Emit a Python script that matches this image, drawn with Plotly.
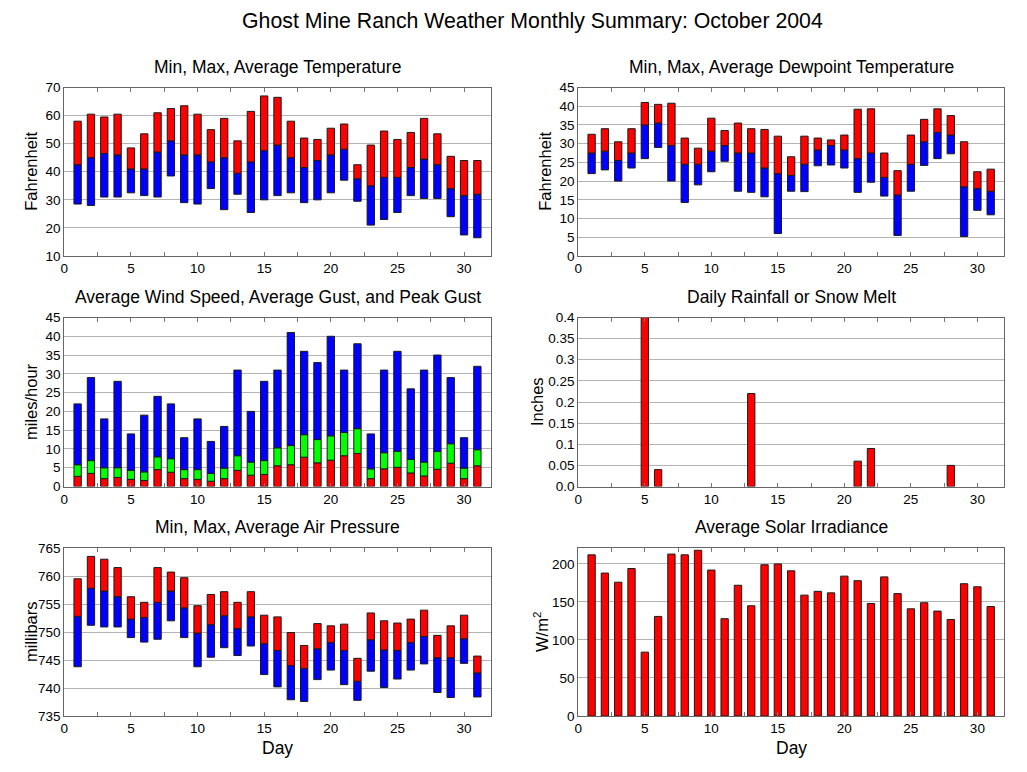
import plotly.graph_objects as go

days = list(range(1, 32))

temp_max = [58, 60.5, 59.5, 60.5, 48.5, 53.5, 61, 62.5, 63.5, 60.5, 55, 59, 51, 61.5, 67, 66.5,
            58, 52, 51.5, 55.5, 57, 42.5, 49.5, 54.5, 51.5, 54, 59, 53.5, 45.5, 44, 44]
temp_avg = [42.5, 45, 46.5, 46, 41, 41, 47, 51, 46, 46, 43.5, 45, 39.5, 43.5, 47.5, 49.5,
            45, 41.5, 44, 46, 48, 37.5, 35, 38, 38, 41.5, 44.5, 42.5, 34, 31.5, 32]
temp_min = [28.5, 28, 31, 31, 32.5, 31.5, 31, 38.5, 29, 28.5, 34, 26.5, 32, 25.5, 30, 31.5,
            32.5, 29, 30, 32.5, 37, 29.5, 21, 23, 25.5, 31.5, 30.5, 30.5, 24, 17.5, 16.5]

dew_max = [32.5, 34, 30.5, 34, 41, 40.5, 40.8, 31.5, 28.8, 36.8, 33.5, 35.5, 34, 33.8, 32, 26.5,
           32, 31.5, 31, 32.3, 39.2, 39.3, 27.5, 22.8, 32.3, 36.5, 39.3, 37.5, 30.5, 22.5, 23.2]
dew_avg = [27.5, 28, 25.5, 27.5, 35, 35.5, 29.5, 24.5, 24.5, 28, 29.5, 27.5, 27.5, 23.5, 22, 21.5,
           24.5, 28.3, 29.5, 28.3, 26, 27.5, 21, 16.3, 24.5, 30.5, 33, 32.3, 18.5, 18, 17.3]
dew_min = [22, 23, 20, 23.5, 26, 29, 20, 14.3, 19, 22.5, 25.3, 17.3, 17, 15.8, 6, 17.3,
           17.2, 24.1, 24.3, 23.5, 17, 19.7, 16, 5.5, 17.3, 24.2, 26, 27.3, 5.2, 12.2, 11]

wind_avg = [2.7, 3.5, 2.1, 2.4, 1.9, 1.6, 4.5, 3.8, 2.1, 1.9, 1.4, 2.1, 4.3, 3.0, 3.2, 5.5,
            5.8, 7.8, 6.3, 7.0, 8.2, 8.8, 2.1, 4.7, 5.1, 3.6, 2.8, 4.6, 6.2, 2.1, 5.5]
gust_avg = [5.8, 6.9, 5.0, 5.0, 4.3, 3.9, 7.9, 7.4, 4.5, 4.5, 3.5, 4.9, 8.2, 6.5, 6.9, 10.3,
            10.9, 13.8, 12.5, 13.5, 14.4, 15.4, 4.7, 9.0, 9.4, 7.2, 6.5, 9.3, 11.4, 4.9, 9.8]
gust_peak = [22, 29, 18, 28, 14, 19, 24, 22, 13, 18, 12, 16, 31, 20, 28, 31,
             41, 36, 33, 40, 31, 38, 14, 31, 36, 26, 31, 35, 29, 13, 32]

rain_days = [5, 6, 13, 21, 22, 28]
rain_vals = [0.40, 0.04, 0.22, 0.06, 0.09, 0.05]

pres_max = [759.5, 763.5, 763, 761.5, 756.3, 755.3, 761.5, 760.7, 759.7, 754.7, 756.7, 757.2,
            755.3, 757.2, 753, 752.7, 749.9, 747.6, 751.5, 751.1, 751.4, 745.3, 753.4, 752,
            751.6, 752.3, 753.9, 749.4, 751.1, 753, 745.7]
pres_avg = [752.8, 757.8, 757.3, 756.3, 752.3, 752.6, 755.3, 757.3, 754.3, 749.8, 751.3, 752.9,
            750.6, 752.7, 747.9, 746.7, 744, 743.5, 747, 748.1, 746.7, 741.2, 748.6, 746.8,
            746.7, 748.1, 749.2, 745.4, 745.4, 748.8, 742.7]
pres_min = [743.8, 751.2, 750.9, 750.9, 749, 748.2, 748.7, 752, 749, 743.8, 745.5, 747.2,
            745.8, 747.5, 742.4, 740.2, 737.9, 737.6, 741.5, 743.2, 740.6, 737.8, 743, 740.1,
            741.6, 743.2, 744.3, 739.2, 738.3, 744.4, 738.4]

solar = [212, 188, 176, 194, 84, 131, 213, 212, 218, 192, 128, 172, 145, 199, 200, 191,
         159, 164, 162, 184, 178, 148, 183, 161, 141, 149, 138, 127, 174, 170, 144]

rain_ticks = [0, 0.05, 0.1, 0.15, 0.2, 0.25, 0.3, 0.35, 0.4]
rain_ticktext = ["0.0", "0.05", "0.1", "0.15", "0.2", "0.25", "0.3", "0.35", "0.4"]

RED = "#ff0000"
BLUE = "#0000ff"
GREEN = "#00ff00"
EDGE = dict(color="#1a1a1a", width=1)
BW = 0.55
FONT = "Liberation Sans, Arial, sans-serif"

W, H = 1027, 772
def px(x):
    return x / W
def py(y):
    return 1 - y / H

cols = [(64.3, 490.7), (578.3, 1004.0)]
rows = [(87.5, 256.0), (317.5, 486.5), (548.0, 716.0)]

fig = go.Figure()

def floating(idx, base, top, color):
    vals = [t - b for t, b in zip(top, base)]
    fig.add_trace(go.Bar(x=days, y=vals, base=base, width=BW, marker=dict(color=color, line=EDGE),
                         xaxis=f"x{idx}", yaxis=f"y{idx}", showlegend=False, hoverinfo="skip"))

# panel 1: temperature
floating(1, temp_min, temp_avg, BLUE)
floating(1, temp_avg, temp_max, RED)
# panel 2: dewpoint
floating(2, dew_min, dew_avg, BLUE)
floating(2, dew_avg, dew_max, RED)
# panel 3: wind
floating(3, [0] * 31, wind_avg, RED)
floating(3, wind_avg, gust_avg, GREEN)
floating(3, gust_avg, gust_peak, BLUE)
# panel 4: rain
fig.add_trace(go.Bar(x=rain_days, y=rain_vals, width=BW, marker=dict(color=RED, line=EDGE),
                     xaxis="x4", yaxis="y4", showlegend=False, cliponaxis=True))
# panel 5: pressure
floating(5, pres_min, pres_avg, BLUE)
floating(5, pres_avg, pres_max, RED)
# panel 6: solar
fig.add_trace(go.Bar(x=days, y=solar, width=BW, marker=dict(color=RED, line=EDGE),
                     xaxis="x6", yaxis="y6", showlegend=False))

yranges = [
    dict(range=[10, 70], dtick=10, tick0=10),
    dict(range=[0, 45], dtick=5, tick0=0),
    dict(range=[0, 45], dtick=5, tick0=0),
    dict(range=[0, 0.4], tickvals=rain_ticks, ticktext=rain_ticktext),
    dict(range=[735, 765], dtick=5, tick0=735),
    dict(range=[0, 221], tickvals=[0, 50, 100, 150, 200]),
]

layout = dict(
    width=W, height=H, margin=dict(l=0, r=0, t=0, b=0, pad=0, autoexpand=False),
    autosize=False,
    paper_bgcolor="white", plot_bgcolor="white",
    font=dict(family=FONT, size=13, color="black"),
    barmode="overlay", showlegend=False,
)
for i in range(6):
    r, c = divmod(i, 2)
    n = i + 1
    x0, x1 = cols[c]
    y0, y1 = rows[r]
    layout[f"xaxis{n}"] = dict(
        domain=[px(x0), px(x1)], range=[0, 32], anchor=f"y{n}", automargin=False,
        tickvals=[0, 5, 10, 15, 20, 25, 30], ticks="inside", ticklen=4, tickcolor="#777",
        minor=dict(dtick=2.5, tick0=0, ticks="inside", ticklen=4, tickcolor="#777", showgrid=False),
        showgrid=False, showline=True, linecolor="#666", linewidth=1, mirror="allticks",
        zeroline=False, tickfont=dict(size=13.5, family=FONT), fixedrange=True,
    )
    ya = dict(
        domain=[py(y1), py(y0)], anchor=f"x{n}", automargin=False,
        showgrid=True, gridcolor="#b4b4b4", gridwidth=1, ticks="",
        showline=True, linecolor="#666", linewidth=1, mirror=True,
        zeroline=False, tickfont=dict(size=13.5, family=FONT), fixedrange=True,
    )
    ya.update(yranges[i])
    layout[f"yaxis{n}"] = ya

fig.update_layout(**layout)

annotations = []
annotations.append(dict(text="Ghost Mine Ranch Weather Monthly Summary: October 2004",
                        x=px(532), y=py(21), xref="paper", yref="paper", showarrow=False,
                        font=dict(size=21.3, family=FONT), xanchor="center", yanchor="middle"))
titles = ["Min, Max, Average Temperature", "Min, Max, Average Dewpoint Temperature",
          "Average Wind Speed, Average Gust, and Peak Gust", "Daily Rainfall or Snow Melt",
          "Min, Max, Average Air Pressure", "Average Solar Irradiance"]
title_y = [67, 297, 527]
for i, t in enumerate(titles):
    r, c = divmod(i, 2)
    x0, x1 = cols[c]
    annotations.append(dict(text=t, x=px((x0 + x1) / 2), y=py(title_y[r]), xref="paper", yref="paper",
                            showarrow=False, font=dict(size=17.5, family=FONT),
                            xanchor="center", yanchor="middle"))
ytitles = ["Fahrenheit", "Fahrenheit", "miles/hour", "Inches", "millibars", "W/m<sup>2</sup>"]
ytitle_x = [31, 545, 31, 537, 31, 541]
for i, t in enumerate(ytitles):
    r, c = divmod(i, 2)
    y0, y1 = rows[r]
    annotations.append(dict(text=t, x=px(ytitle_x[i]), y=py((y0 + y1) / 2), xref="paper", yref="paper",
                            showarrow=False, textangle=-90, font=dict(size=16.5, family=FONT),
                            xanchor="center", yanchor="middle"))
for c in range(2):
    x0, x1 = cols[c]
    annotations.append(dict(text="Day", x=px((x0 + x1) / 2), y=py(748), xref="paper", yref="paper",
                            showarrow=False, font=dict(size=17.5, family=FONT),
                            xanchor="center", yanchor="middle"))
fig.update_layout(annotations=annotations)

fig.write_html("out.html", config={"displayModeBar": False},
               post_script="document.body.style.margin='0px';")
